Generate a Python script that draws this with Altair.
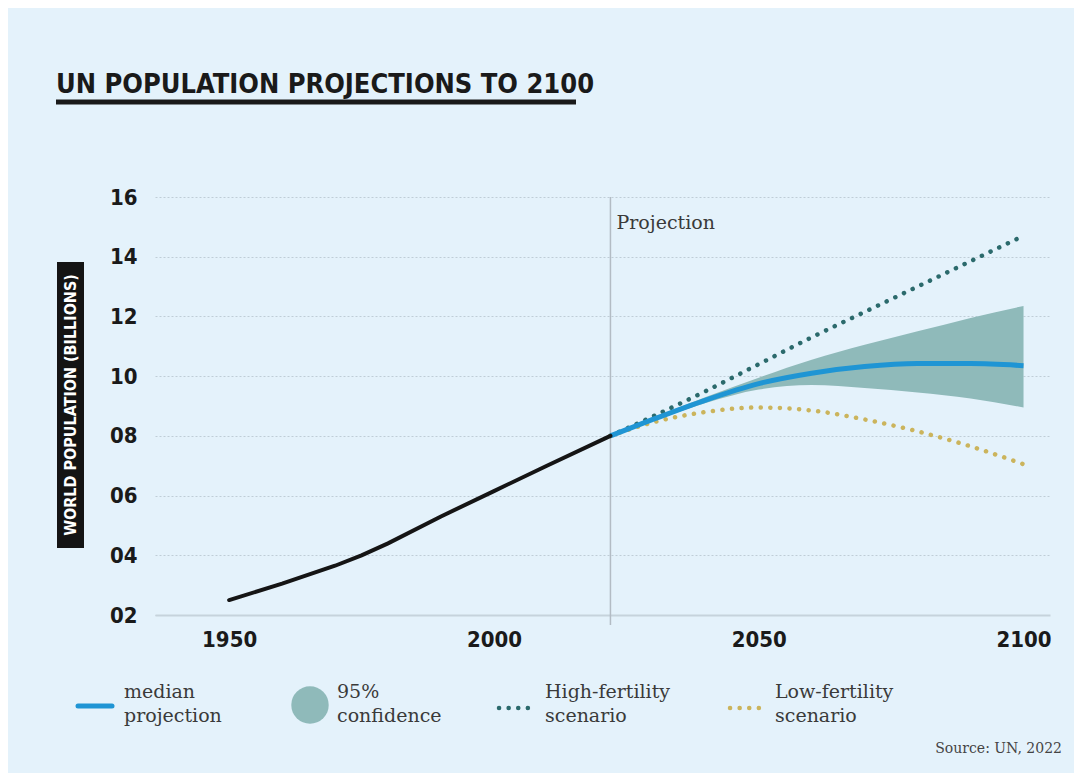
import altair as alt
import pandas as pd

# ---- data ----
years_hist = [1950, 1960, 1970, 1975, 1980, 1990, 2000, 2010, 2022]
pop_hist = [2.5, 3.05, 3.65, 4.0, 4.4, 5.3, 6.15, 7.0, 8.0]

years_proj = [2022, 2030, 2040, 2050, 2060, 2070, 2080, 2090, 2100]
median = [8.0, 8.55, 9.2, 9.75, 10.1, 10.32, 10.42, 10.42, 10.35]
lower95 = [8.0, 8.5, 9.1, 9.55, 9.7, 9.6, 9.45, 9.25, 8.95]
upper95 = [8.0, 8.6, 9.3, 9.95, 10.55, 11.05, 11.5, 11.95, 12.35]
high_fert = [8.0, 8.65, 9.5, 10.4, 11.3, 12.15, 13.0, 13.85, 14.7]
low_fert = [8.0, 8.45, 8.8, 8.95, 8.85, 8.55, 8.15, 7.65, 7.05]

x_ticks = [1950, 2000, 2050, 2100]
y_ticks = [2, 4, 6, 8, 10, 12, 14, 16]

title_text = "UN POPULATION PROJECTIONS TO 2100"
y_title = "WORLD POPULATION (BILLIONS)"
projection_label = "Projection"
projection_year = 2022
legend_labels = ["median\nprojection", "95%\nconfidence", "High-fertility\nscenario", "Low-fertility\nscenario"]
source_text = "Source: UN, 2022"

# ---- styling ----
BG = "#e4f2fb"
NARROW = "Liberation Sans Narrow, DejaVu Sans Condensed, Arial Narrow, sans-serif"
SERIF = "DejaVu Serif, Noto Serif, serif"
C_MED = "#1f95d4"
C_BAND = "#8fbaba"
C_HIGH = "#2b6a6c"
C_LOW = "#cbb45c"
C_HIST = "#151515"
W, H = 895, 418

hist_df = pd.DataFrame({"year": years_hist, "pop": pop_hist})
proj_df = pd.DataFrame({"year": years_proj, "median": median, "lower": lower95,
                        "upper": upper95, "high": high_fert, "low": low_fert})

xscale = alt.Scale(domain=[1936, 2105], nice=False, zero=False)
yscale = alt.Scale(domain=[2, 16], nice=False, zero=False)

xaxis = alt.Axis(
    values=x_ticks, format="d", title=None, ticks=False, grid=False,
    domain=True, domainColor="#c6d3dc", domainWidth=2,
    labelFont=NARROW, labelFontWeight="bold", labelFontSize=22, labelColor="#1a1a1a",
    labelPadding=14)
yaxis = alt.Axis(
    values=y_ticks, title=None, ticks=False, domain=False, grid=True,
    gridColor="#bfcdd7", gridDash=[2, 2], gridWidth=1.2,
    labelExpr="datum.value < 10 ? '0' + datum.value : '' + datum.value",
    labelFont=NARROW, labelFontWeight="bold", labelFontSize=22, labelColor="#1a1a1a",
    labelPadding=18)


def X():
    return alt.X("year:Q", scale=xscale, axis=xaxis)


def Y(field):
    return alt.Y(f"{field}:Q", scale=yscale, axis=yaxis)


band = alt.Chart(proj_df).mark_area(color=C_BAND, opacity=1, interpolate="monotone").encode(
    x=X(), y=Y("lower"), y2="upper:Q")

one = lambda v: pd.DataFrame({"t": [v]})

proj_rule = alt.Chart(pd.DataFrame({"year": [projection_year]})).mark_rule(
    color="#b3bcc4", strokeWidth=1.5).encode(
    x=X(), y=alt.value(0), y2=alt.value(H + 10))

proj_text = alt.Chart(pd.DataFrame({"year": [projection_year], "t": [projection_label]})).mark_text(
    align="left", baseline="middle", dx=6, font=SERIF, fontSize=19, color="#3a3a3a").encode(
    x=X(), y=alt.value(26), text="t:N")


def dotted(field, color):
    return alt.Chart(proj_df).mark_line(
        color=color, strokeWidth=4.5, strokeDash=[0.1, 9.5], strokeCap="round",
        interpolate="monotone").encode(x=X(), y=Y(field))


high_line = dotted("high", C_HIGH)
low_line = dotted("low", C_LOW)

med_line = alt.Chart(proj_df).mark_line(color=C_MED, strokeWidth=5, interpolate="monotone").encode(
    x=X(), y=Y("median"))

hist_line = alt.Chart(hist_df).mark_line(color=C_HIST, strokeWidth=4, strokeCap="round").encode(
    x=X(), y=Y("pop"))

# ---- decorations (title, y title box, legend, source) ----
title = alt.Chart(one(title_text)).mark_text(
    align="left", baseline="alphabetic", font=NARROW, fontWeight="bold", fontSize=27,
    color="#1a1a1a").encode(x=alt.value(-99), y=alt.value(-104), text="t:N")
underline = alt.Chart(one(0)).mark_rule(color="#1a1a1a", strokeWidth=5).encode(
    x=alt.value(-99), x2=alt.value(421), y=alt.value(-95))

ybox = alt.Chart(one(0)).mark_rect(color="#141414").encode(
    x=alt.value(-98), x2=alt.value(-71), y=alt.value(65), y2=alt.value(351))
ytitle = alt.Chart(one(y_title)).mark_text(
    angle=270, align="center", baseline="middle", font=NARROW, fontWeight="bold",
    fontSize=16, color="white").encode(x=alt.value(-84.5), y=alt.value(208), text="t:N")


def legend_text(label, x):
    return alt.Chart(one(label)).mark_text(
        align="left", baseline="alphabetic", lineBreak="\n", lineHeight=24,
        font=SERIF, fontSize=19, color="#3a3a3a").encode(
        x=alt.value(x), y=alt.value(501), text="t:N")


leg_med = alt.Chart(one(0)).mark_rule(color=C_MED, strokeWidth=5, strokeCap="round").encode(
    x=alt.value(-77), x2=alt.value(-43), y=alt.value(509))
leg_band = alt.Chart(one(0)).mark_point(shape="circle", filled=True, size=1400,
                                        color=C_BAND, opacity=1).encode(
    x=alt.value(155), y=alt.value(508))
leg_high = alt.Chart(one(0)).mark_rule(color=C_HIGH, strokeWidth=4.5, strokeDash=[0.1, 9.5],
                                       strokeCap="round").encode(
    x=alt.value(344), x2=alt.value(378), y=alt.value(511))
leg_low = alt.Chart(one(0)).mark_rule(color=C_LOW, strokeWidth=4.5, strokeDash=[0.1, 9.5],
                                      strokeCap="round").encode(
    x=alt.value(575), x2=alt.value(609), y=alt.value(511))

source = alt.Chart(one(source_text)).mark_text(
    align="right", baseline="alphabetic", font=SERIF, fontSize=14, color="#444444").encode(
    x=alt.value(907), y=alt.value(556), text="t:N")

chart = alt.layer(
    band, proj_rule, high_line, low_line, med_line, hist_line, proj_text,
    title, underline, ybox, ytitle,
    leg_med, legend_text(legend_labels[0], -31),
    leg_band, legend_text(legend_labels[1], 182),
    leg_high, legend_text(legend_labels[2], 390),
    leg_low, legend_text(legend_labels[3], 620),
    source,
).properties(
    width=W, height=H,
    autosize=alt.AutoSizeParams(type="none"),
    padding={"left": 147, "top": 189, "right": 24, "bottom": 158},
    background=BG,
).configure_view(stroke=None)

chart.save("out.html", embed_options={"renderer": "svg", "actions": False})
